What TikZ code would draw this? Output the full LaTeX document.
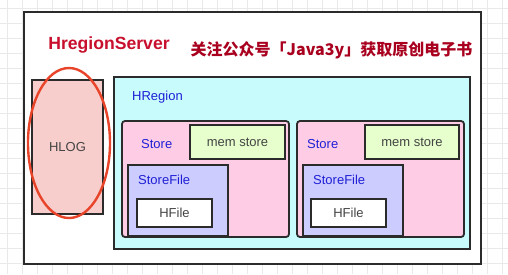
\documentclass[tikz,border=0pt]{standalone}
\usepackage{fontspec}
\setmainfont{Liberation Sans}
\newfontfamily\cjk{Noto Sans CJK SC}
\usetikzlibrary{shapes.geometric}
\definecolor{gridc}{HTML}{E9E9E9}
\definecolor{edge}{HTML}{2B2B2B}
\definecolor{hlogc}{HTML}{F8CECC}
\definecolor{hregc}{HTML}{C8FCFC}
\definecolor{storec}{HTML}{FFCCE6}
\definecolor{memc}{HTML}{E6FFCC}
\definecolor{sfc}{HTML}{CCCCFF}
\definecolor{titlec}{HTML}{C8102E}
\definecolor{cjkc}{HTML}{A8001E}
\definecolor{lblc}{HTML}{1F1FD6}
\definecolor{txtc}{HTML}{444444}
\definecolor{ellc}{HTML}{E8442A}
\begin{document}
\begin{tikzpicture}[x=1pt,y=-1pt,
  box/.style={draw=edge,line width=1.8pt,rectangle,inner sep=0pt,outer sep=0pt,
    font=\fontsize{13}{15}\selectfont,text=txtc},
  rbox/.style={box,rounded corners=3pt},
  lbl/.style={anchor=west,inner sep=0pt,text=lblc,font=\fontsize{13}{15}\selectfont}]
\useasboundingbox (0,0) rectangle (508,274);
\fill[white] (0,0) rectangle (508,274);
\foreach \x in {7,22,...,502} \draw[gridc,line width=0.8pt] (\x,0) -- (\x,274);
\foreach \y in {8,23,...,270} \draw[gridc,line width=0.8pt] (0,\y) -- (508,\y);
\node[box,fill=white,minimum width=457pt,minimum height=252pt] (outer) at (252.5,138) {};
\node[anchor=center,inner sep=0pt,text=titlec,font=\bfseries\fontsize{17.6}{20}\selectfont] (title) at (109,45) {HregionServer};
\node[anchor=center,inner sep=0pt,text=cjkc,font=\cjk\bfseries\fontsize{16}{18}\selectfont] (ad) at (331.5,50) {关注公众号「Java3y」获取原创电子书};
\node[box,fill=hlogc,minimum width=71pt,minimum height=134pt] (hlog) at (67.5,147) {HLOG};
\node[box,fill=hregc,minimum width=356pt,minimum height=172pt] (hreg) at (292,163) {};
\node[lbl] (hregl) at (132,97) {HRegion};
\node[rbox,fill=storec,minimum width=167pt,minimum height=116pt] (st1) at (205.5,179) {};
\node[rbox,fill=storec,minimum width=167pt,minimum height=116pt] (st2) at (380.5,179) {};
\node[box,fill=memc,minimum width=95pt,minimum height=34pt] (mem1) at (237.5,142) {mem store};
\node[box,fill=memc,minimum width=94pt,minimum height=34pt] (mem2) at (412,142) {mem store};
\node[lbl] (st1l) at (141,144) {Store};
\node[lbl] (st2l) at (307,144) {Store};
\node[box,fill=sfc,minimum width=100pt,minimum height=71pt] (sf1) at (178,200.5) {};
\node[box,fill=sfc,minimum width=100pt,minimum height=71pt] (sf2) at (353,200.5) {};
\node[lbl] (sf1l) at (138,180) {StoreFile};
\node[lbl] (sf2l) at (313,180) {StoreFile};
\node[box,fill=white,minimum width=75pt,minimum height=28pt] (hf1) at (174.5,213) {HFile};
\node[box,fill=white,minimum width=75pt,minimum height=28pt] (hf2) at (348.5,213) {HFile};
\node[ellipse,draw=ellc,line width=2.4pt,minimum width=82pt,minimum height=150pt,inner sep=0pt] (ell) at (69,143) {};
\end{tikzpicture}
\end{document}
